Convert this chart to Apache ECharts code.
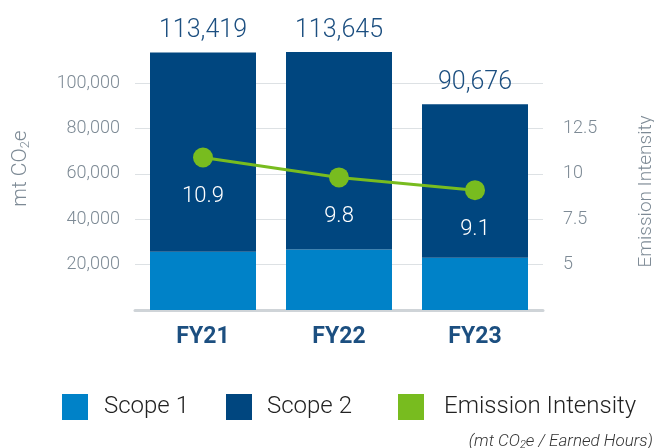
<!DOCTYPE html>
<html>
<head>
<meta charset="utf-8">
<script src="https://cdn.jsdelivr.net/npm/echarts@6/dist/echarts.min.js"></script>
<style>
  html, body { margin: 0; padding: 0; background: #fff; }
  #chart { width: 654px; height: 448px; }
</style>
</head>
<body>
<div id="chart"></div>
<script>
// data
var years = ['FY21', 'FY22', 'FY23'];
var totals = [113419, 113645, 90676];
var scope1 = [25700, 26600, 23000];
var scope2 = [87719, 87045, 67676];
var intensity = [10.9, 9.8, 9.1];
var leftTicks = [20000, 40000, 60000, 80000, 100000];
var rightTicks = [5, 7.5, 10, 12.5];

var font = 'Roboto';
var grayText = '#7d8a95';
var navy = '#1c4f80';

// one legend per item so each sits where the picture has it
function legendItem(name, left, gap) {
    return {
        left: left,
        top: 394,
        padding: 0,
        itemWidth: 26,
        itemHeight: 26,
        icon: 'rect',
        textStyle: { fontFamily: font, fontWeight: 300, fontSize: 24, color: '#222', padding: [0, 0, 0, gap] },
        data: [name]
    };
}

var myChart = echarts.init(document.getElementById('chart'));

var option = {
    animation: false,
    textStyle: { fontFamily: font },
    title: {
        text: '(mt CO{sub|2}e / Earned Hours)',
        right: 1,
        top: 432,
        padding: 0,
        textStyle: {
            fontFamily: font,
            fontStyle: 'italic',
            fontWeight: 300,
            fontSize: 17,
            color: '#333',
            rich: {
                sub: { fontFamily: font, fontStyle: 'italic', fontWeight: 300, fontSize: 11, color: '#333', padding: [8, 0, 0, 0] }
            }
        }
    },
    legend: [
        legendItem('Scope 1', 62, 11),
        legendItem('Scope 2', 226, 10),
        legendItem('Emission Intensity', 398, 15)
    ],
    grid: { left: 135, right: 111, top: 83, bottom: 138, outerBoundsMode: 'none' },
    xAxis: {
        type: 'category',
        data: years,
        axisTick: { show: false },
        axisLine: { lineStyle: { color: '#cfd4d8', width: 3 } },
        axisLabel: { margin: 16, fontFamily: font, fontWeight: 'bold', fontSize: 23, color: navy }
    },
    yAxis: [
        {
            type: 'value',
            min: 0,
            max: 100000,
            interval: 20000,
            name: 'mt CO{sub|2}e',
            nameLocation: 'middle',
            nameRotate: 90,
            nameGap: 103,
            nameTextStyle: {
                fontFamily: font, fontWeight: 300, fontSize: 21, color: grayText,
                padding: [0, 0, 0, 56],
                rich: { sub: { fontFamily: font, fontWeight: 300, fontSize: 13, color: grayText, padding: [9, 0, 0, 0] } }
            },
            axisLine: { show: false },
            axisTick: { show: false },
            splitLine: { lineStyle: { color: '#dde1e4', width: 1 } },
            axisLabel: {
                margin: 15, fontFamily: font, fontWeight: 300, fontSize: 18, color: grayText,
                formatter: function (v) { return leftTicks.indexOf(v) >= 0 ? v.toLocaleString('en-US') : ''; }
            }
        },
        {
            type: 'value',
            min: 2.5,
            max: 15,
            interval: 2.5,
            name: 'Emission Intensity',
            nameLocation: 'middle',
            nameRotate: 90,
            nameGap: 94,
            nameTextStyle: { fontFamily: font, fontWeight: 300, fontSize: 19, color: grayText, padding: [0, 0, 0, 10] },
            axisLine: { show: false },
            axisTick: { show: false },
            splitLine: { show: false },
            axisLabel: {
                margin: 20, fontFamily: font, fontWeight: 300, fontSize: 18, color: grayText,
                formatter: function (v) { return rightTicks.indexOf(v) >= 0 ? String(v) : ''; }
            }
        }
    ],
    series: [
        {
            name: 'Scope 1',
            type: 'bar',
            stack: 'total',
            barWidth: 106,
            clip: false,
            itemStyle: { color: '#0082c8' },
            data: scope1
        },
        {
            name: 'Scope 2',
            type: 'bar',
            stack: 'total',
            barWidth: 106,
            clip: false,
            itemStyle: { color: '#00467f' },
            label: {
                show: true,
                position: 'top',
                distance: 9,
                fontFamily: font,
                fontWeight: 300,
                fontSize: 25,
                color: navy,
                formatter: function (p) { return totals[p.dataIndex].toLocaleString('en-US'); }
            },
            data: scope2
        },
        {
            name: 'Emission Intensity',
            type: 'line',
            yAxisIndex: 1,
            z: 5,
            symbol: 'circle',
            symbolSize: 20,
            lineStyle: { color: '#78bc1f', width: 3 },
            itemStyle: { color: '#78bc1f' },
            label: {
                show: true,
                position: 'bottom',
                distance: 18,
                fontFamily: font,
                fontWeight: 300,
                fontSize: 22,
                color: '#fff'
            },
            data: intensity
        }
    ]
};

myChart.setOption(option);
</script>
</body>
</html>
